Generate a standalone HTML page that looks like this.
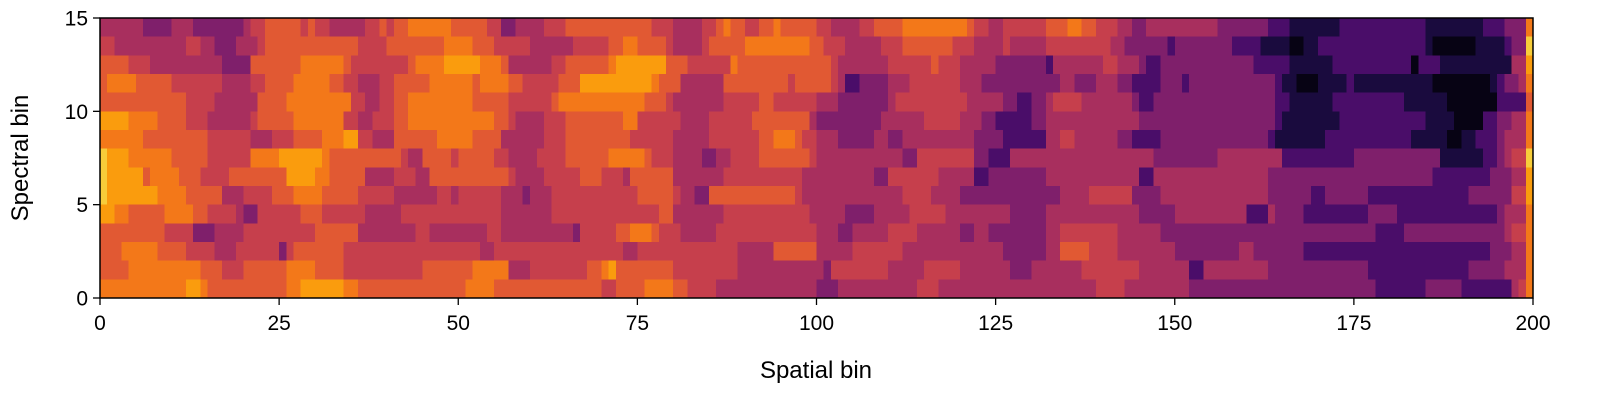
<!DOCTYPE html>
<html><head><meta charset="utf-8"><style>
html,body{margin:0;padding:0;background:#fff;width:1600px;height:400px;overflow:hidden}
svg{display:block;font-family:"Liberation Sans","DejaVu Sans",sans-serif}
</style></head><body>
<svg id="chart" width="1600" height="400" viewBox="0 0 1600 400" xmlns="http://www.w3.org/2000/svg">
<g id="cells" shape-rendering="crispEdges"></g>
<rect x="100" y="18" width="1433" height="280" fill="none" stroke="#000" stroke-width="1.5"/>
<g id="xticks"></g>
<g id="yticks"></g>
<text x="816" y="378" font-size="24" text-anchor="middle">Spatial bin</text>
<text transform="translate(28,158) rotate(-90)" font-size="24" text-anchor="middle">Spectral bin</text>
</svg>
<script>
// rows listed from top (spectral bin 14) to bottom (spectral bin 0); each digit = one spatial bin (intensity level 0-9)
const rowsTopDown = [
"4444443333 4443333333 4556666656 5544444556 5667777776 6666553344 4455566666 6666666555 4444556766 5566766666 5544445566 6677777777 7655445555 5566677665 5544334444 4444443333 3332221111 1112222222 2222211111 1112223337",
"5544444444 4455443334 4456666666 6666665555 6666666677 7766655555 4444445555 5667766665 4444566666 7777777776 6555444445 5566666665 5544445444 4455555555 5443333332 3333333322 2211110011 2222222222 2222210000 0011112339",
"6666555444 4444444333 3666666677 7777655555 5556777788 8887776444 4445566666 6788888886 6655555576 6666666666 6654444444 5555556555 4444433333 3324444444 5544432233 3333333333 3222221111 1122222222 2220222111 1111111448",
"6777766666 5555555444 4556666777 7766554445 5666667777 7767777665 5555666888 8888888766 6444444666 6666665666 6654223333 4445555555 4443333333 3333443334 4433222233 3233333333 3333211000 1111211111 1111110000 0000123347",
"6666666666 6655554444 4466667777 7777755445 5667777777 7766666555 5556777777 7777776665 4444444555 5566555555 4443333333 4555555555 5444443322 3345555444 4444322333 3333333333 3333221111 1122222222 2211111100 0000022226",
"8888777766 6655544444 4566666777 7777554455 5667777777 7777766544 4455566666 6667755555 5444455555 5666666664 3333333334 4444455555 4443322222 3344444444 4444433333 3333333333 3333211111 1112222222 2222211110 0002233447",
"7777776666 6666655555 5444555666 6777885544 4666666777 7766664444 4455566666 6666555555 4444455555 5566777655 4443333344 3344444444 4433332222 2244554444 4433222233 3333333333 3332111111 1222222222 2221111100 1122234447",
"9888777777 6666655555 5777788888 8766666666 6654466665 6666655444 4555566666 6777776555 4444334455 5566666665 4444444444 4433555555 5533222444 4444444444 4444444333 3333334444 4444422222 2222233333 3333333111 1112234559",
"9888886777 7666555566 6666668888 7766666444 4555446666 6666666544 4455555666 5554666666 4444444555 5555555544 4444444433 5555555444 4422333333 3344444444 4444422444 4444444444 4443333333 3333333333 3333332222 2222333448",
"9888888877 7766666444 5555666777 7666665555 5444444554 5555554443 4445555555 5555566666 5443366666 6666666544 4444444444 4455554444 3333333333 3333444455 5555333344 4444444444 4443333332 2333333222 2222222222 2333333558",
"8877666667 7776655554 3355555566 6555555444 4455555555 5555554444 4445555555 5555555566 4444444555 5555555554 4444333344 4445555544 4444444333 3344444444 4444433333 4444444444 2224333322 2222222333 3222222222 2222234447",
"6666666665 5553334444 5555555555 6666664444 4444554444 4444554444 4444443555 5566777655 5444445555 5555555555 4443344444 5555444444 3344333333 3344555555 5544444433 3333333333 3333333333 3333333322 2233333333 3333334557",
"6667777766 6655554445 5555535666 6666555555 5555555555 5554455555 5555555555 5554455555 5555555554 4444666666 4444455555 5544444444 4444443333 3344666655 5544444444 3333333334 4333333322 2222222222 2222222222 2222333447",
"6666777777 7777666555 6666667777 6666555555 5555566666 6677777444 5555555566 7866666666 5555555554 4444444444 4355555555 4444455555 4444444333 4444444555 5555544444 4422444444 4443333333 3333333222 2222222222 2333334447",
"7777777777 7788766666 6666667788 8888776666 6666666666 6777766666 6666666666 5566667777 6655554444 4444444444 3334444444 4444555444 4444444444 4444444445 5554444444 4433333333 3333333333 3333333322 2222233333 2222222457"
];
const xTickValues = [0,25,50,75,100,125,150,175,200];
const yTickValues = [0,5,10,15];
const levelToT = [0.03,0.11,0.22,0.35,0.45,0.53,0.62,0.70,0.78,0.88];

const NX = 200, NY = 15;
const L = 100, R = 1533, T = 18, B = 298;
const xScale = v => L + (v / NX) * (R - L);
const yScale = v => B - (v / NY) * (B - T);

const stops = ["#000004","#160b39","#420a68","#6a176e","#932667","#bc3754","#dd513a","#f37819","#fca50a","#f6d746","#fcffa4"];
function hex(h){return [parseInt(h.substr(1,2),16),parseInt(h.substr(3,2),16),parseInt(h.substr(5,2),16)];}
function inferno(t){
  t=Math.max(0,Math.min(1,t));
  const p=t*10, i=Math.min(9,Math.floor(p)), f=p-i;
  const a=hex(stops[i]), b=hex(stops[i+1]);
  return "rgb("+a.map((v,k)=>Math.round(v+(b[k]-v)*f)).join(",")+")";
}
const NS="http://www.w3.org/2000/svg";
const cells=document.getElementById("cells");
rowsTopDown.forEach((str,ri)=>{
  const s=str.replace(/ /g,"");
  const yb = NY-1-ri;
  for(let xi=0;xi<s.length;xi++){
    const r=document.createElementNS(NS,"rect");
    const x0=xScale(xi), x1=xScale(xi+1), y0=yScale(yb+1), y1=yScale(yb);
    r.setAttribute("x",x0.toFixed(2));
    r.setAttribute("y",y0.toFixed(2));
    r.setAttribute("width",(x1-x0+0.6).toFixed(2));
    r.setAttribute("height",(y1-y0+0.6).toFixed(2));
    r.setAttribute("fill",inferno(levelToT[+s[xi]]));
    
    
    cells.appendChild(r);
  }
});
const xt=document.getElementById("xticks");
xTickValues.forEach(v=>{
  const x=xScale(v);
  const l=document.createElementNS(NS,"line");
  l.setAttribute("x1",x);l.setAttribute("x2",x);l.setAttribute("y1",B);l.setAttribute("y2",B+7);
  l.setAttribute("stroke","#000");l.setAttribute("stroke-width","1.3");
  
  
  xt.appendChild(l);
  const t=document.createElementNS(NS,"text");
  t.setAttribute("x",x);t.setAttribute("y",B+32);t.setAttribute("font-size","21");t.setAttribute("text-anchor","middle");
  t.textContent=v;
  
  
  xt.appendChild(t);
});
const yt=document.getElementById("yticks");
yTickValues.forEach(v=>{
  const y=yScale(v);
  const l=document.createElementNS(NS,"line");
  l.setAttribute("x1",L-7);l.setAttribute("x2",L);l.setAttribute("y1",y);l.setAttribute("y2",y);
  l.setAttribute("stroke","#000");l.setAttribute("stroke-width","1.3");
  
  
  yt.appendChild(l);
  const t=document.createElementNS(NS,"text");
  t.setAttribute("x",L-12);t.setAttribute("y",y+7.5);t.setAttribute("font-size","21");t.setAttribute("text-anchor","end");
  t.textContent=v;
  
  
  yt.appendChild(t);
});
</script>
</body></html>
